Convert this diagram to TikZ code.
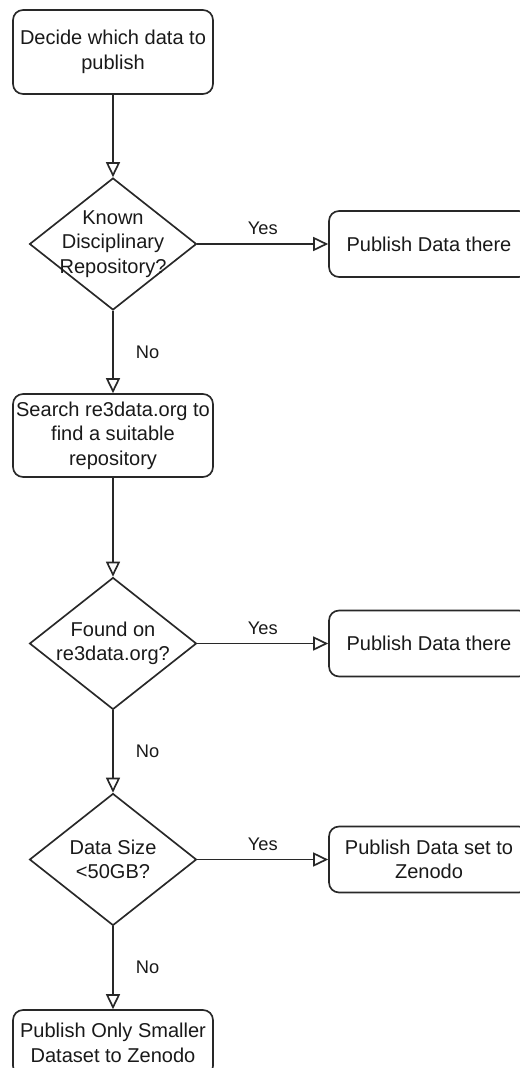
\documentclass[tikz,border=0pt]{standalone}
\usepackage{fontspec}
\setmainfont{Liberation Sans}
\usetikzlibrary{shapes.geometric}
\usetikzlibrary{arrows.meta}
\newcommand{\flowfont}{\fontsize{11.4pt}{13.9pt}\selectfont}
\newcommand{\lblfont}{\fontsize{10.4pt}{12.5pt}\selectfont}
\definecolor{linegray}{RGB}{40,40,40}
\definecolor{textgray}{RGB}{25,25,25}
\tikzset{
    stepbox/.style={draw=linegray,line width=0.95pt,rounded corners=0.2cm,
        minimum width=4cm,minimum height=#1,inner sep=0pt,align=center,
        font=\flowfont,text=textgray},
    stepbox/.default=1.32cm,
    decision/.style={draw=linegray,line width=0.95pt,diamond,
        minimum width=3.34cm,minimum height=2.64cm,inner sep=0pt},
    dtext/.style={align=center,font=\flowfont,text=textgray,inner sep=0pt},
    flow/.style={draw=linegray,line width=0.95pt,
        -{Triangle[open,length=0.3cm,width=0.28cm]}},
    yeslbl/.style={midway,above=0.16cm,inner sep=0pt,font=\lblfont,text=textgray},
    nolbl/.style={midway,right=0.44cm,inner sep=0pt,font=\lblfont,text=textgray},
}
\begin{document}
\begin{tikzpicture}[x=0.02cm,y=-0.02cm]
\useasboundingbox (0,0) rectangle (520,1068);
\clip (0,0) rectangle (520,1068);
% main column
\node[stepbox=1.68cm] (start) at (113,52) {Decide which data to\\publish};
\node[decision,label={[dtext]center:{Known\\Disciplinary\\Repository?}}] (d1) at (113,244) {};
\node[stepbox=1.66cm] (search) at (113,435.5) {Search re3data.org to\\find a suitable\\repository};
\node[decision,label={[dtext]center:{Found on\\re3data.org?}}] (d2) at (113,643.5) {};
\node[decision,label={[dtext]center:{Data Size\\<50GB?}}] (d3) at (113,859.5) {};
\node[stepbox] (small) at (113,1043) {Publish Only Smaller\\Dataset to Zenodo};
% outcomes on the right
\node[stepbox] (pub1) at (429,244) {Publish Data there};
\node[stepbox] (pub2) at (429,643.5) {Publish Data there};
\node[stepbox] (pub3) at (429,859.5) {Publish Data set to\\Zenodo};
% connectors
\draw[flow] (start) -- (d1);
\draw[flow] (d1) -- node[yeslbl]{Yes} (pub1);
\draw[flow] (d1) -- node[nolbl]{No} (search);
\draw[flow] (search) -- (d2);
\draw[flow] (d2) -- node[yeslbl]{Yes} (pub2);
\draw[flow] (d2) -- node[nolbl]{No} (d3);
\draw[flow] (d3) -- node[yeslbl]{Yes} (pub3);
\draw[flow] (d3) -- node[nolbl]{No} (small);
\end{tikzpicture}
\end{document}
